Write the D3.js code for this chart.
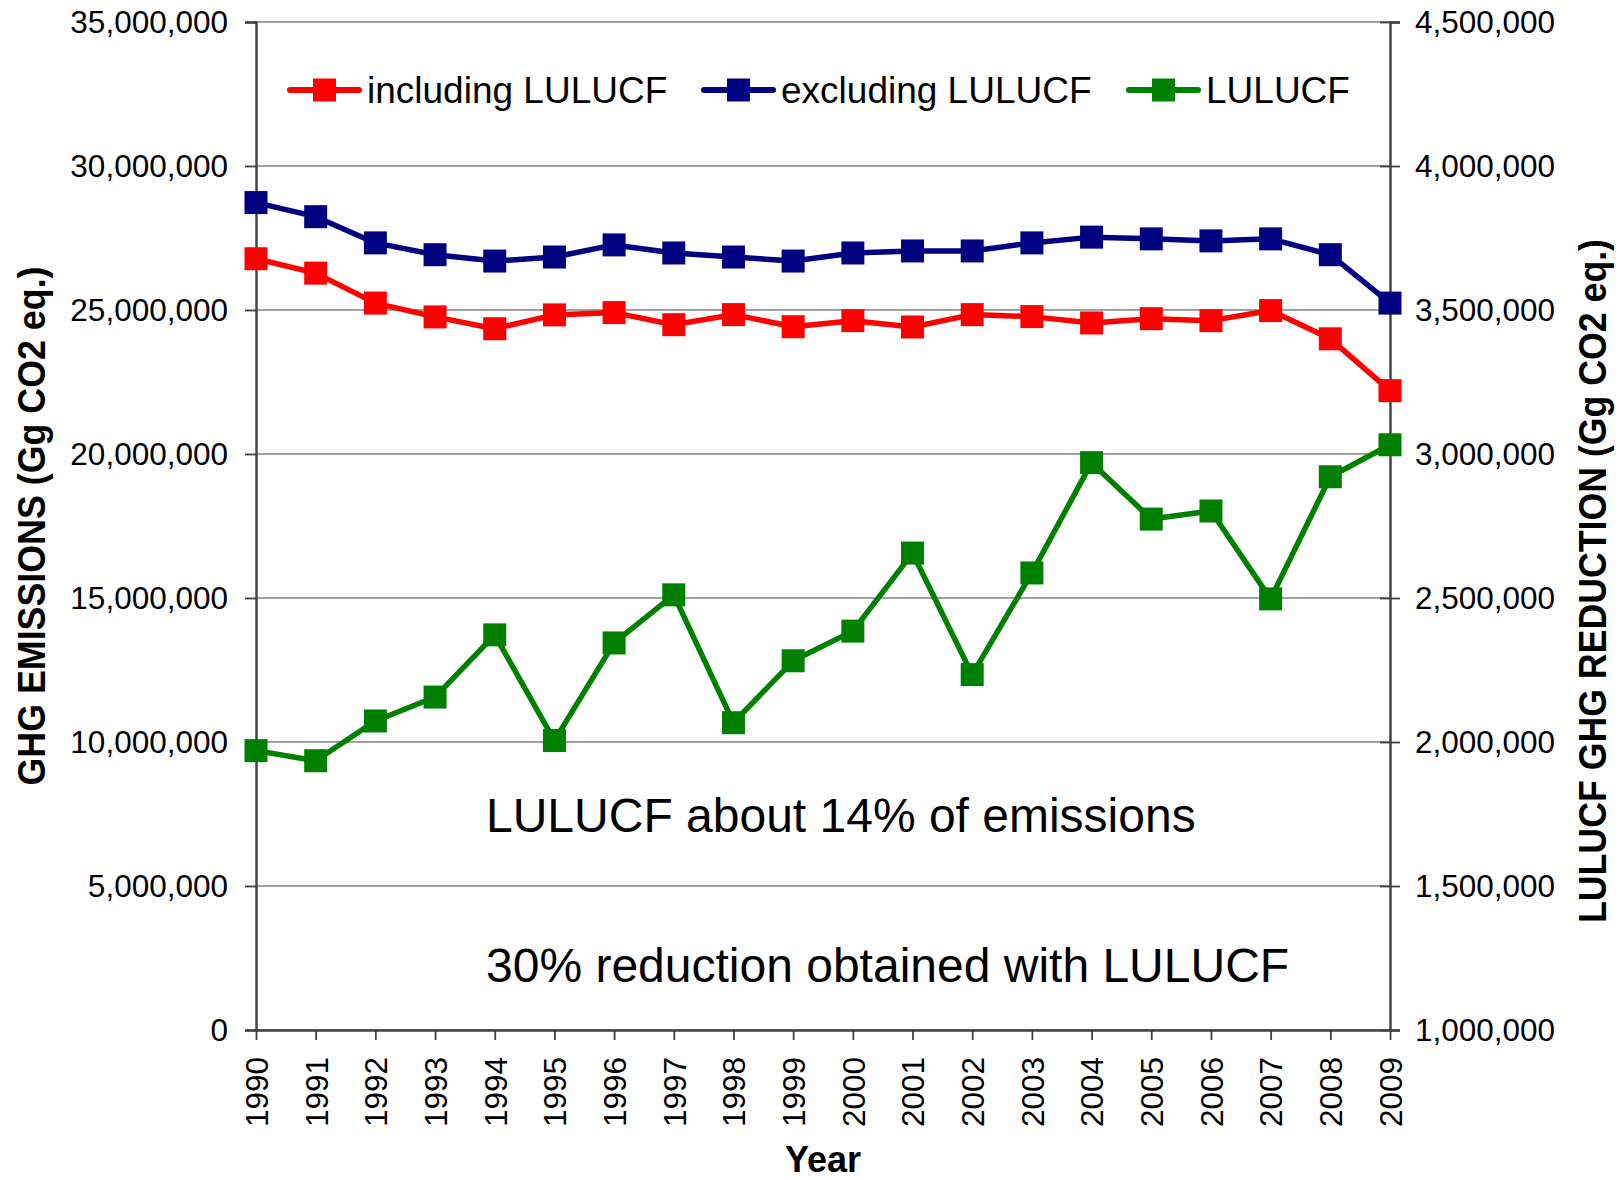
<!DOCTYPE html>
<html>
<head>
<meta charset="utf-8">
<script src="https://cdn.jsdelivr.net/npm/d3@7"></script>
<style>
  body { margin: 0; background: #fff; }
  svg { display: block; font-family: "Liberation Sans", Arial, sans-serif; }
</style>
</head>
<body>
<div id="chart"></div>
<script>
var years = [1990, 1991, 1992, 1993, 1994, 1995, 1996, 1997, 1998, 1999,
             2000, 2001, 2002, 2003, 2004, 2005, 2006, 2007, 2008, 2009];

// left axis (Gg CO2 eq.)
var includingLulucf = [26780000, 26280000, 25240000, 24760000, 24350000, 24830000, 24910000, 24490000, 24840000, 24420000,
                       24630000, 24410000, 24840000, 24770000, 24550000, 24700000, 24630000, 24980000, 24000000, 22200000];
var excludingLulucf = [28730000, 28240000, 27330000, 26920000, 26700000, 26840000, 27260000, 26980000, 26840000, 26700000,
                       26980000, 27050000, 27050000, 27330000, 27530000, 27470000, 27400000, 27470000, 26920000, 25240000];
// right axis
var lulucf = [1970000, 1935000, 2073000, 2156000, 2372000, 2005000, 2344000, 2511000, 2067000, 2282000,
              2385000, 2656000, 2234000, 2587000, 2970000, 2774000, 2802000, 2497000, 2921000, 3032000];

var leftTicks = [0, 5000000, 10000000, 15000000, 20000000, 25000000, 30000000, 35000000];
var rightTicks = [1000000, 1500000, 2000000, 2500000, 3000000, 3500000, 4000000, 4500000];

var seriesNames = ['including LULUCF', 'excluding LULUCF', 'LULUCF'];
var seriesColors = ['#ff0000', '#000080', '#008000'];
var notes = ['LULUCF about 14% of emissions', '30% reduction obtained with LULUCF'];

var width = 1621, height = 1180;
var margins = {top: 22, left: 256, right: 231, bottom: 150};
var w = width - margins.left - margins.right;
var h = height - margins.top - margins.bottom;

var svg = d3.select('#chart').append('svg')
    .attr('width', width)
    .attr('height', height);

var g = svg.append('g')
    .attr('transform', 'translate(' + margins.left + ',' + margins.top + ')');

var x = d3.scalePoint().domain(years).range([0, w]);
var yLeft = d3.scaleLinear().domain([0, 35000000]).range([h, 0]);
var yRight = d3.scaleLinear().domain([1000000, 4500000]).range([h, 0]);
var fmt = d3.format(',');

// gridlines
g.append('g').selectAll('line')
    .data(leftTicks)
    .enter().append('line')
    .attr('x1', 0).attr('x2', w)
    .attr('y1', function(d) { return yLeft(d); })
    .attr('y2', function(d) { return yLeft(d); })
    .attr('stroke', '#808080')
    .attr('stroke-width', 1.6);

// left axis
var leftAxis = g.append('g')
    .call(d3.axisLeft(yLeft).tickValues(leftTicks).tickFormat(fmt).tickSize(11).tickPadding(17));
// right axis
var rightAxis = g.append('g')
    .attr('transform', 'translate(' + w + ',0)')
    .call(d3.axisRight(yRight).tickValues(rightTicks).tickFormat(fmt).tickSize(10).tickPadding(15));
rightAxis.selectAll('.tick line').attr('x1', -10);
// bottom axis
var bottomAxis = g.append('g')
    .attr('transform', 'translate(0,' + h + ')')
    .call(d3.axisBottom(x).tickSize(10).tickSizeOuter(0));

[leftAxis, rightAxis, bottomAxis].forEach(function(a) {
  a.select('.domain').attr('stroke', '#404040').attr('stroke-width', 2.4);
  a.selectAll('.tick line').attr('stroke', '#404040').attr('stroke-width', 1.8);
  a.selectAll('text')
      .attr('fill', '#000')
      .style('font-size', '31.5px')
      .style('font-family', '"Liberation Sans", Arial, sans-serif');
});

bottomAxis.selectAll('text')
    .attr('transform', 'rotate(-90)')
    .attr('text-anchor', 'end')
    .attr('x', -27)
    .attr('y', 0)
    .attr('dy', '0.36em');

// series
var allSeries = [
  {name: seriesNames[0], color: seriesColors[0], values: includingLulucf, y: yLeft},
  {name: seriesNames[1], color: seriesColors[1], values: excludingLulucf, y: yLeft},
  {name: seriesNames[2], color: seriesColors[2], values: lulucf, y: yRight}
];
var msize = 23;

allSeries.forEach(function(s) {
  var line = d3.line()
      .x(function(d, i) { return x(years[i]); })
      .y(function(d) { return s.y(d); });
  g.append('path')
      .datum(s.values)
      .attr('d', line)
      .attr('fill', 'none')
      .attr('stroke', s.color)
      .attr('stroke-width', 5.5)
      .attr('stroke-linejoin', 'round');
  g.append('g').selectAll('rect')
      .data(s.values)
      .enter().append('rect')
      .attr('x', function(d, i) { return x(years[i]) - msize / 2; })
      .attr('y', function(d) { return s.y(d) - msize / 2; })
      .attr('width', msize)
      .attr('height', msize)
      .attr('fill', s.color);
});

// legend
var legendX = [290, 704, 1129];
var legend = svg.append('g');
allSeries.forEach(function(s, i) {
  var lg = legend.append('g').attr('transform', 'translate(' + legendX[i] + ',90)');
  lg.append('line')
      .attr('x1', 0).attr('x2', 69)
      .attr('y1', 0).attr('y2', 0)
      .attr('stroke', s.color)
      .attr('stroke-width', 6)
      .attr('stroke-linecap', 'round');
  lg.append('rect')
      .attr('x', 34.5 - msize / 2).attr('y', -msize / 2)
      .attr('width', msize).attr('height', msize)
      .attr('fill', s.color);
  lg.append('text')
      .attr('x', 77)
      .attr('y', 13)
      .style('font-size', '37px')
      .text(s.name);
});

// notes
svg.selectAll('text.note')
    .data(notes)
    .enter().append('text')
    .classed('note', true)
    .attr('x', 486)
    .attr('y', function(d, i) { return i === 0 ? 832 : 982; })
    .style('font-size', '48px')
    .text(function(d) { return d; });

// axis titles
svg.append('text')
    .attr('transform', 'translate(31,' + (margins.top + h / 2) + ') rotate(-90)')
    .attr('text-anchor', 'middle')
    .attr('dy', '0.36em')
    .attr('textLength', 519)
    .attr('lengthAdjust', 'spacingAndGlyphs')
    .style('font-size', '38px')
    .style('font-weight', 'bold')
    .text('GHG EMISSIONS (Gg CO2 eq.)');

svg.append('text')
    .attr('transform', 'translate(1592,581) rotate(-90)')
    .attr('text-anchor', 'middle')
    .attr('dy', '0.36em')
    .attr('textLength', 684)
    .attr('lengthAdjust', 'spacingAndGlyphs')
    .style('font-size', '38px')
    .style('font-weight', 'bold')
    .text('LULUCF GHG REDUCTION (Gg CO2 eq.)');

svg.append('text')
    .attr('x', margins.left + w / 2)
    .attr('y', 1172)
    .attr('text-anchor', 'middle')
    .style('font-size', '36px')
    .style('font-weight', 'bold')
    .text('Year');
</script>
</body>
</html>
